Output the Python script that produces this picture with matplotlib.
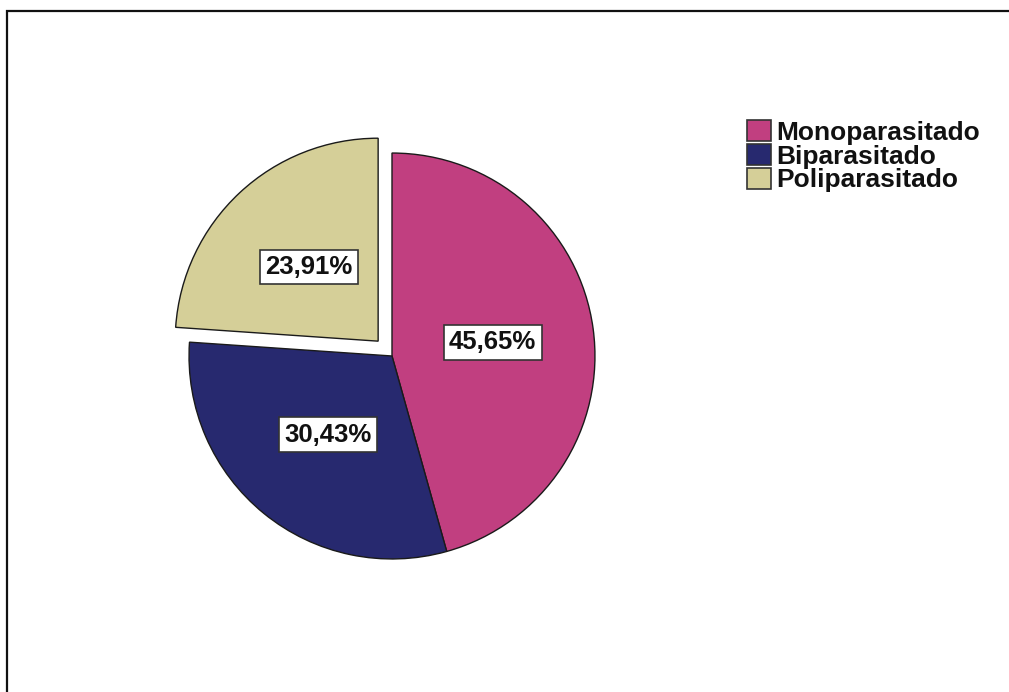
import matplotlib
matplotlib.use("Agg")
import matplotlib.pyplot as plt
from matplotlib.patches import Rectangle

categories = ["Monoparasitado", "Biparasitado", "Poliparasitado"]
percentages = [45.65, 30.43, 23.91]
colors = ["#C13F80", "#27296F", "#D5CF98"]
explode = [0, 0, 0.1]

plt.rcParams["font.family"] = ["Liberation Sans", "DejaVu Sans"]

fig = plt.figure(figsize=(10.09, 6.92), dpi=100)
fig.patch.set_facecolor("white")

# outer frame, cut off at the right and bottom like the source image
fig.patches.append(Rectangle((7 / 1009, -0.1), 1.2, 1.1 - 11 / 692,
                             transform=fig.transFigure, fill=False,
                             edgecolor="#111111", linewidth=1.6))

ax = fig.add_axes([0.127, 0.1042, 0.523, 0.7627])


def fmt(pct):
    return f"{pct:.2f}".replace(".", ",") + "%"


wedges, texts, autotexts = ax.pie(
    percentages,
    colors=colors,
    explode=explode,
    startangle=90,
    counterclock=False,
    autopct=fmt,
    pctdistance=0.5,
    wedgeprops=dict(edgecolor="#1a1a1a", linewidth=1.0),
    textprops=dict(fontsize=18.5, color="#111111", fontweight="bold"),
)
for t in autotexts:
    t.set_bbox(dict(facecolor="white", edgecolor="#333333", linewidth=1.2, pad=3.8))

ax.set_xlim(-1.3, 1.3)
ax.set_ylim(-1.3, 1.3)
ax.set_aspect("equal")
ax.axis("off")

leg = fig.legend(
    wedges, categories,
    loc="upper left", bbox_to_anchor=(747 / 1009, 1 - 120 / 692),
    frameon=False, prop=dict(size=19, weight="bold"),
    borderpad=0, borderaxespad=0,
    handlelength=0.9, handleheight=0.85, handletextpad=0.2,
    labelspacing=-0.03,
)
for h in leg.legend_handles:
    h.set_edgecolor("#333333")
    h.set_linewidth(1.2)
for t in leg.get_texts():
    t.set_color("#111111")

fig.savefig("out.png", dpi=100, facecolor="white")
